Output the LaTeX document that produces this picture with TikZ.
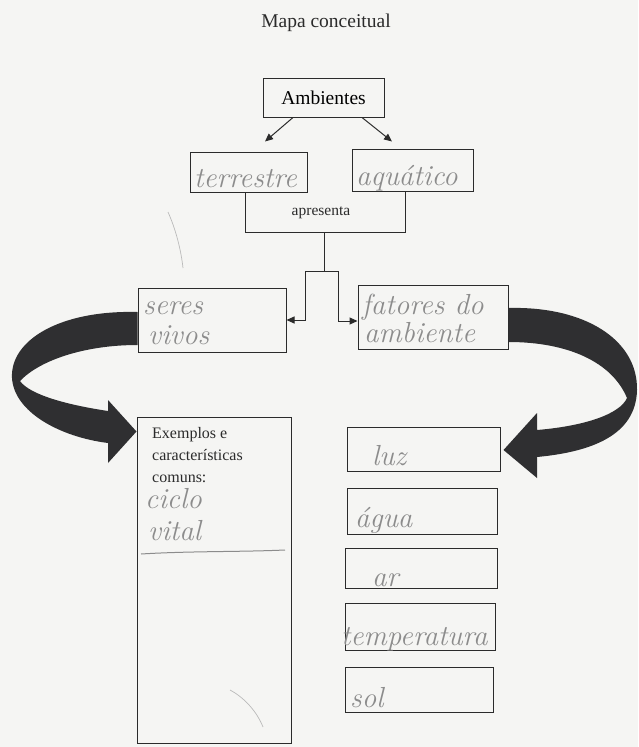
\documentclass[tikz,border=0pt]{standalone}
\usepackage{fontspec}
\setmainfont{Liberation Serif}
\usetikzlibrary{arrows.meta}

\definecolor{paper}{HTML}{F5F5F3}
\definecolor{ink}{HTML}{2B2B2B}
\definecolor{pencil}{HTML}{8C8C8C}
\definecolor{ribbon}{HTML}{2F2F31}

\tikzset{
  box/.style={draw=ink, line width=1pt, fill=paper, inner sep=0pt},
  link/.style={draw=ink, line width=1pt},
  tip/.style={link, -{Triangle[length=8pt,width=7pt]}},
  hw/.style={text=pencil, font=\fontfamily{lmr}\fontsize{29}{31}\itshape, anchor=base west, inner sep=0pt},
  typed/.style={text=ink, inner sep=0pt},
  stray/.style={draw=pencil!60, line width=0.7pt},
}

\begin{document}
\begin{tikzpicture}[x=1pt,y=-1pt]
  % sheet
  \fill[paper] (0,0) rectangle (638,747);
  \useasboundingbox (0,0) rectangle (638,747);

  \node[typed, font=\fontsize{19.5}{22}\selectfont, anchor=base] (title) at (326,27) {Mapa conceitual};

  % boxes
  \node[box, minimum width=121pt, minimum height=39pt, font=\fontsize{19.5}{22}\selectfont] (amb) at (323.5,97.5) {Ambientes};
  \node[box, minimum width=117pt, minimum height=40pt] (ter) at (248.5,172) {};
  \node[box, minimum width=121pt, minimum height=42pt] (aqu) at (412.5,170) {};
  \node[box, minimum width=148pt, minimum height=64pt] (ser) at (212,320) {};
  \node[box, minimum width=150pt, minimum height=64pt] (fat) at (433,317) {};
  \node[box, minimum width=154pt, minimum height=326pt] (exe) at (214,580) {};
  \node[box, minimum width=153pt, minimum height=44pt] (luz) at (423.5,449) {};
  \node[box, minimum width=150pt, minimum height=46pt] (agu) at (422,511) {};
  \node[box, minimum width=152pt, minimum height=40pt] (ar)  at (421,568) {};
  \node[box, minimum width=150pt, minimum height=47pt] (tem) at (420,626.5) {};
  \node[box, minimum width=148pt, minimum height=45pt] (sol) at (419,689.5) {};

  % curved ribbon arrows
  \fill[ribbon] ([yshift=8pt]ser.west) .. controls (60,310) and (10,340) .. (12,378)
    .. controls (14,412) and (60,437) .. (108,443) -- (108,463)
    -- ([yshift=-15pt]exe.north west) -- (108,400) -- (108,411)
    .. controls (68,405) and (30,395) .. (20,381)
    .. controls (40,360) and (85,345) .. ([yshift=-25pt]ser.west) -- cycle;
  \fill[ribbon] ([yshift=9pt]fat.east) .. controls (585,306) and (638,340) .. (637,390)
    .. controls (636,436) and (590,452) .. (537,457) -- (537,478)
    -- ([xshift=3pt,yshift=-1pt]luz.east) -- (537,413) -- (537,430)
    .. controls (585,426) and (620,414) .. (627,398)
    .. controls (612,362) and (568,342) .. ([yshift=-25pt]fat.east) -- cycle;

  % connectors
  \draw[tip] ([xshift=-30.5pt]amb.south) -- ([xshift=16.5pt,yshift=10pt]ter.north);
  \draw[tip] ([xshift=38.5pt]amb.south) -- ([xshift=-20.5pt,yshift=7pt]aqu.north);

  \coordinate (bL) at (245,232);
  \coordinate (bR) at (405,232);
  \coordinate (bM) at (324,232);
  \coordinate (fork) at (324,271);
  \coordinate (fL) at (305,271);
  \coordinate (fR) at (338,271);
  \draw[link] ([xshift=-3.5pt]ter.south) -- (bL) -- (bR) -- ([xshift=-7.5pt]aqu.south);
  \node[typed, font=\fontsize{15.5}{18}\selectfont] (apr) at (321,213) {apresenta};
  \draw[link] (bM) -- (fork);
  \draw[tip] (fork) -- (fL) |- (ser.east);
  \draw[tip] (fork) -- (fR) |- ([yshift=-4pt]fat.west);

  % typed label
  \node[typed, font=\fontsize{16}{22}\selectfont, align=left, anchor=north west] (exlab) at (152,427)
    {Exemplos e\\características\\comuns:};

  % pencil writing
  \node[hw] (t1) at (194,187) {terrestre};
  \node[hw] (t2) at (356,185) {aquático};
  \node[hw] (t3) at (143,314) {seres};
  \node[hw] (t4) at (148,344) {vivos};
  \node[hw] (t5) at (362,314) {fatores do};
  \node[hw] (t6) at (364,342) {ambiente};
  \node[hw] (t7) at (145,508) {ciclo};
  \node[hw] (t8) at (148,540) {vital};
  \node[hw] (t9) at (372,465) {luz};
  \node[hw] (t10) at (355,527) {água};
  \node[hw] (t11) at (372,586) {ar};
  \node[hw] (t12) at (341,645) {temperatura};
  \node[hw] (t13) at (350,707) {sol};

  % pencil rule under the examples
  \draw[draw=pencil, line width=1pt] (141,554) .. controls (190,551) and (240,552) .. (285,550);

  % stray pencil marks
  \draw[stray] (168,212) .. controls (176,230) and (181,250) .. (183,268);
  \draw[stray] (230,690) .. controls (245,698) and (257,712) .. (263,727);
\end{tikzpicture}
\end{document}
